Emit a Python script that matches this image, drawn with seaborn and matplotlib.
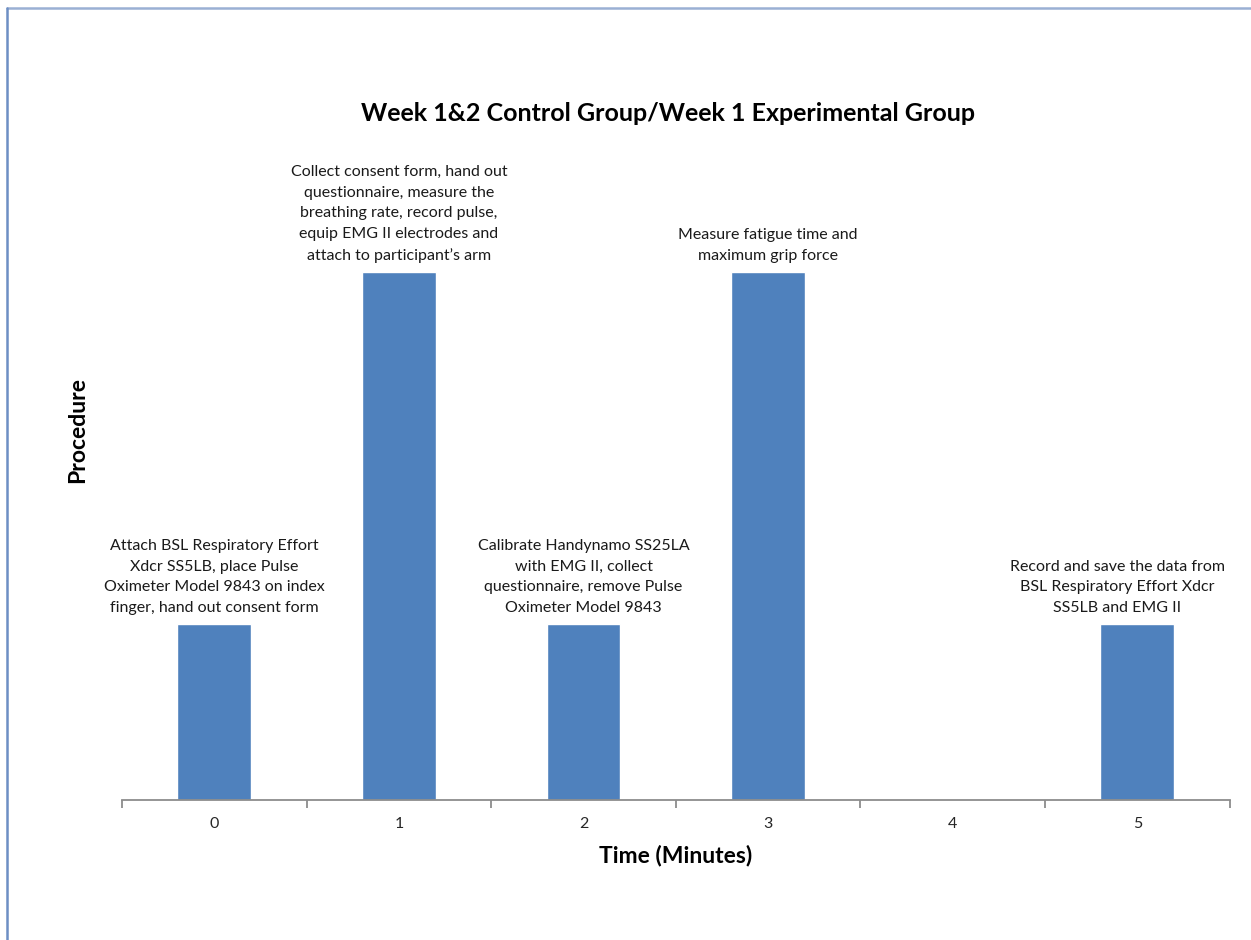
import numpy as np
import pandas as pd
import matplotlib
matplotlib.use("Agg")
import matplotlib.pyplot as plt
from matplotlib.lines import Line2D
import seaborn as sns

# Procedure steps by minute
minutes = ["0", "1", "2", "3", "4", "5"]
levels = [1, 3, 1, 3, 0, 1]
step_notes = [
    "Attach BSL Respiratory Effort\nXdcr SS5LB, place Pulse\nOximeter Model 9843 on index\nfinger, hand out consent form",
    "Collect consent form, hand out\nquestionnaire, measure the\nbreathing rate, record pulse,\nequip EMG II electrodes and\nattach to participant\u2019s arm",
    "Calibrate Handynamo SS25LA\nwith EMG II, collect\nquestionnaire, remove Pulse\nOximeter Model 9843",
    "Measure fatigue time and\nmaximum grip force",
    "",
    "Record and save the data from\nBSL Respiratory Effort Xdcr\nSS5LB and EMG II",
]
title = "Week 1&2 Control Group/Week 1 Experimental Group"
x_title = "Time (Minutes)"
y_title = "Procedure"

sns.set_theme(style="white")
plt.rcParams["font.family"] = ["Lato", "DejaVu Sans"]

df = pd.DataFrame({"minute": minutes, "level": levels})

fig = plt.figure(figsize=(12.51, 9.4), dpi=100)
ax = fig.add_axes([0.0975, 0.149, 0.8855, 0.749])

sns.barplot(data=df, x="minute", y="level", order=minutes, color="#4F81BD",
            saturation=1, width=0.4, ax=ax)

ax.set_ylim(0, 4)
ax.set_xlim(-0.5, len(minutes) - 0.5)
ax.set_yticks([])

for side in ["left", "right", "top"]:
    ax.spines[side].set_visible(False)
ax.spines["bottom"].set_color("#8c8c8c")
ax.spines["bottom"].set_linewidth(1.3)

ax.set_xticks(range(len(minutes)))
ax.set_xticklabels(minutes, fontsize=11.5, color="#262626")
ax.set_xticks(np.arange(-0.5, len(minutes)), minor=True)
ax.tick_params(axis="x", which="major", length=0, pad=12)
ax.tick_params(axis="x", which="minor", length=6, width=1.3, color="#8c8c8c",
               direction="out", bottom=True)

ax.set_xlabel(x_title, fontsize=16.5, fontweight="bold", color="black", labelpad=10)
ax.set_ylabel(y_title, fontsize=16.5, fontweight="bold", color="black")
ax.yaxis.set_label_coords(-0.031, 0.526)

notes = []
for i, (val, note) in enumerate(zip(levels, step_notes)):
    if note:
        notes.append(ax.annotate(note, xy=(i, val), xytext=(0, 6.5),
                                 textcoords="offset points",
                                 ha="center", va="bottom", multialignment="center",
                                 fontsize=11.5, color="#1a1a1a", linespacing=1.6))

# keep data labels inside the plot area, pulling them in from the right edge
fig.canvas.draw()
renderer = fig.canvas.get_renderer()
ax_right = ax.get_window_extent(renderer).x1
for t in notes:
    bb = t.get_window_extent(renderer)
    overflow = bb.x1 - (ax_right - 5)
    if overflow > 0:
        dx, dy = t.xyann
        t.xyann = (dx - overflow * 72 / fig.dpi, dy)

fig.text(0.534, 0.879, title, ha="center", va="center", fontsize=18,
         fontweight="bold", color="black")

# window frame along the top and left edges
fig.add_artist(Line2D([7 / 1251, 1.0], [1 - 8 / 940, 1 - 8 / 940],
                      transform=fig.transFigure, color="#9ab0d4", linewidth=1.8))
fig.add_artist(Line2D([7 / 1251, 7 / 1251], [0.0, 1 - 8 / 940],
                      transform=fig.transFigure, color="#6d8fc4", linewidth=1.8))

fig.savefig("out.png", dpi=100, facecolor="white")
